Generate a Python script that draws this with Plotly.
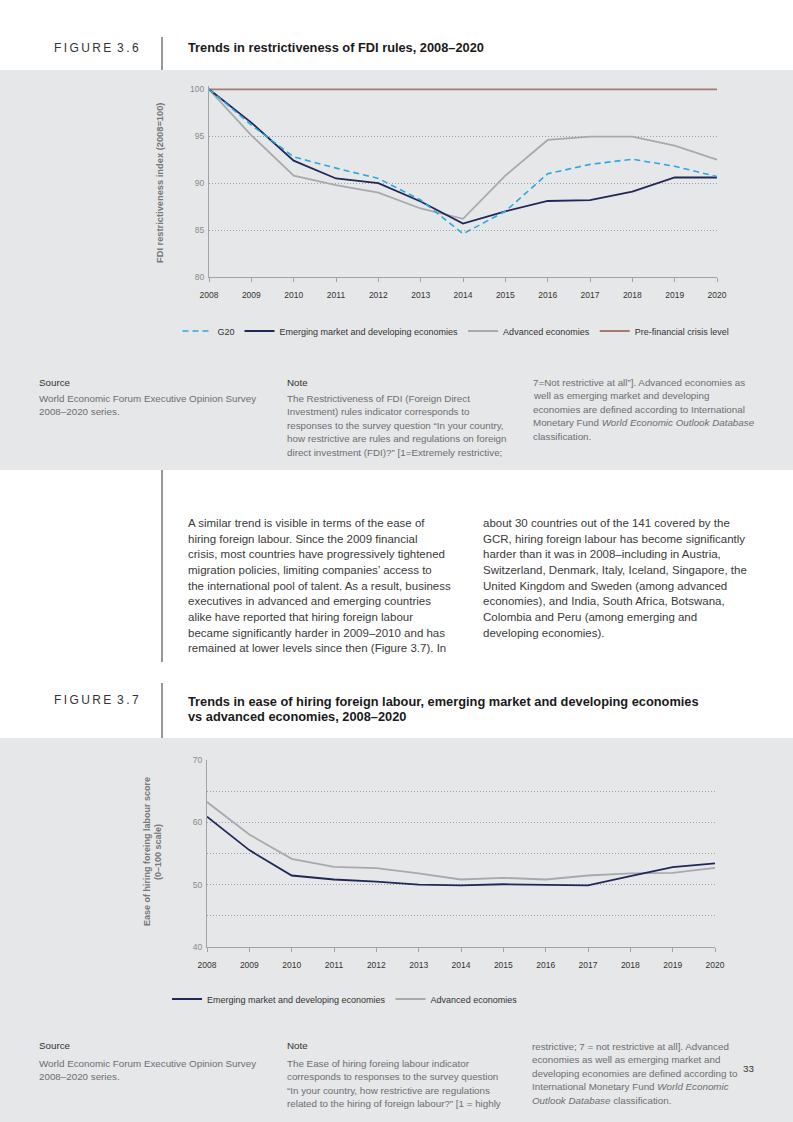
import plotly.graph_objects as go

W, H = 793, 1122

# ---------------- DATA ----------------
years = list(range(2008, 2021))
year_labels = [str(y) for y in years]

fdi_g20 = [100, 96.2, 92.8, 91.6, 90.5, 88.2, 84.6, 87.0, 91.0, 92.0, 92.55, 91.8, 90.7]
fdi_emerging = [100, 96.45, 92.4, 90.5, 90.0, 88.05, 85.7, 87.0, 88.1, 88.2, 89.1, 90.6, 90.6]
fdi_advanced = [100, 95.1, 90.8, 89.8, 89.0, 87.3, 86.2, 90.8, 94.6, 94.95, 94.95, 94.0, 92.5]
fdi_precrisis = [100] * 13
fdi_yticks = [80, 85, 90, 95, 100]

lab_advanced = [63.25, 58.05, 54.15, 52.86, 52.64, 51.8, 50.83, 51.1, 50.83, 51.47, 51.8, 51.9, 52.7]
lab_emerging = [60.9, 55.54, 51.47, 50.83, 50.5, 50.0, 49.9, 50.07, 49.97, 49.9, 51.36, 52.8, 53.4]
lab_yticks = [40, 45, 50, 55, 60, 65, 70]
lab_yticktext = ["40", "", "50", "", "60", "", "70"]

# ---------------- STYLE ----------------
FONT = "Liberation Sans"
NAVY = "#1f2859"
BLUE = "#2aa9e0"
GREY = "#a8a9ac"
BROWN = "#a57b72"
PANEL = "#e6e7e8"
AXIS = "#a3a3a3"


def px_x(x):
    return x / W


def px_y(y):
    return 1 - y / H


fig = go.Figure()

# Figure 3.6 traces
fig.add_trace(go.Scatter(x=years, y=fdi_precrisis, name="Pre-financial crisis level", mode="lines",
                         line=dict(color=BROWN, width=1.8), xaxis="x", yaxis="y", legend="legend",
                         legendrank=4))
fig.add_trace(go.Scatter(x=years, y=fdi_advanced, name="Advanced economies", mode="lines",
                         line=dict(color=GREY, width=1.8), xaxis="x", yaxis="y", legend="legend",
                         legendrank=3))
fig.add_trace(go.Scatter(x=years, y=fdi_emerging, name="Emerging market and developing economies", mode="lines",
                         line=dict(color=NAVY, width=1.8), xaxis="x", yaxis="y", legend="legend",
                         legendrank=2))
fig.add_trace(go.Scatter(x=years, y=fdi_g20, name="G20", mode="lines",
                         line=dict(color=BLUE, width=1.6, dash="6px,4px"), xaxis="x", yaxis="y",
                         legend="legend", legendrank=1))

# Figure 3.7 traces
fig.add_trace(go.Scatter(x=years, y=lab_advanced, name="Advanced economies", mode="lines",
                         line=dict(color=GREY, width=1.8), xaxis="x2", yaxis="y2", legend="legend2",
                         legendrank=2))
fig.add_trace(go.Scatter(x=years, y=lab_emerging, name="Emerging market and developing economies", mode="lines",
                         line=dict(color=NAVY, width=1.8), xaxis="x2", yaxis="y2", legend="legend2",
                         legendrank=1))

# ---------------- AXES ----------------
xcommon = dict(tickvals=years, ticktext=year_labels, showline=True, linecolor=AXIS, linewidth=1,
               ticks="outside", ticklen=4, tickcolor=AXIS, showgrid=False, zeroline=False,
               ticklabelstandoff=6,
               tickfont=dict(family=FONT, size=8.5, color="#333333"), fixedrange=True, automargin=False)
ycommon = dict(showline=True, linecolor=AXIS, linewidth=1, ticks="", showgrid=True,
               gridcolor="#a0a0a0", griddash="1px,2px", gridwidth=1, zeroline=False,
               ticklabelstandoff=2,
               tickfont=dict(family=FONT, size=8.5, color="#8a8a8a"), fixedrange=True, automargin=False)

y1_top_val = 100.3
ppu1 = (277 - 89.3) / 20
fig.update_layout(
    xaxis=dict(domain=[px_x(209), px_x(717)], range=[2008, 2020], anchor="y", **xcommon),
    yaxis=dict(domain=[px_y(277), px_y(89.3 - (y1_top_val - 100) * ppu1)], range=[80, y1_top_val],
               tickvals=fdi_yticks, anchor="x", **ycommon),
    xaxis2=dict(domain=[px_x(207), px_x(715)], range=[2008, 2020], anchor="y2", **xcommon),
    yaxis2=dict(domain=[px_y(947), px_y(760)], range=[40, 70], tickvals=lab_yticks,
                ticktext=lab_yticktext, anchor="x2", **ycommon),
)

# ---------------- LEGENDS ----------------
legfont = dict(family=FONT, size=9, color="#333333")
fig.update_layout(
    legend=dict(orientation="h", xanchor="center", x=px_x(456), yanchor="middle", y=px_y(331),
                font=legfont, bgcolor="rgba(0,0,0,0)", itemwidth=30, traceorder="normal"),
    legend2=dict(orientation="h", xanchor="center", x=px_x(345), yanchor="middle", y=px_y(999),
                 font=legfont, bgcolor="rgba(0,0,0,0)", itemwidth=30, traceorder="normal"),
)

# ---------------- SHAPES ----------------
shapes = [
    dict(type="rect", xref="paper", yref="paper", x0=0, x1=1, y0=px_y(470), y1=px_y(70),
         fillcolor=PANEL, line=dict(width=0), layer="below"),
    dict(type="rect", xref="paper", yref="paper", x0=0, x1=1, y0=0, y1=px_y(738),
         fillcolor=PANEL, line=dict(width=0), layer="below"),
    dict(type="line", xref="paper", yref="paper", x0=px_x(162), x1=px_x(162), y0=px_y(70), y1=px_y(37),
         line=dict(color="#333333", width=1)),
    dict(type="line", xref="paper", yref="paper", x0=px_x(162), x1=px_x(162), y0=px_y(662), y1=px_y(470),
         line=dict(color="#333333", width=1)),
    dict(type="line", xref="paper", yref="paper", x0=px_x(162), x1=px_x(162), y0=px_y(738), y1=px_y(683),
         line=dict(color="#333333", width=1)),
]
fig.update_layout(shapes=shapes)

# ---------------- TEXT ----------------
ann = []


def text(x, y, s, size=8, color="#6d6e71", bold=False, xanchor="left", angle=0):
    if bold:
        s = "<b>" + s + "</b>"
    ann.append(dict(x=px_x(x), y=px_y(y), xref="paper", yref="paper", text=s, showarrow=False,
                    xanchor=xanchor, yanchor="middle", textangle=angle,
                    font=dict(family=FONT, size=size, color=color)))


def block(x, y0, lines, step, **kw):
    for i, ln in enumerate(lines):
        text(x, y0 + i * step, ln, **kw)


NOTE = 9.8
BODY = 11.5
TITLE = 12.8
TS = "\u2009"
text(52, 48, TS.join("FIGURE") + TS + " " + TS.join("3.6"), size=12, color="#333333")
text(186, 48, "Trends in restrictiveness of FDI rules, 2008–2020", size=TITLE, color="#1a1a1a", bold=True)

text(160, 183, "FDI restrictiveness index (2008=100)", size=9.3, color="#77787b", bold=True, xanchor="center",
     angle=-90)

# notes for 3.6
text(37, 382, "Source", size=NOTE, color="#333333")
block(37, 398, ["World Economic Forum Executive Opinion Survey", "2008–2020 series."], 13.6, size=NOTE)
text(285, 382, "Note", size=NOTE, color="#333333")
block(285, 398, ["The Restrictiveness of FDI (Foreign Direct",
                 "Investment) rules indicator corresponds to",
                 "responses to the survey question “In your country,",
                 "how restrictive are rules and regulations on foreign",
                 "direct investment (FDI)?” [1=Extremely restrictive;"], 13.6, size=NOTE)
block(531, 382, ["7=Not restrictive at all”]. Advanced economies as",
                 "well as emerging market and developing",
                 "economies are defined according to International",
                 "Monetary Fund <i>World Economic Outlook Database</i>",
                 "classification."], 13.6, size=NOTE)

# body text
block(186, 523, ["A similar trend is visible in terms of the ease of",
                 "hiring foreign labour. Since the 2009 financial",
                 "crisis, most countries have progressively tightened",
                 "migration policies, limiting companies’ access to",
                 "the international pool of talent. As a result, business",
                 "executives in advanced and emerging countries",
                 "alike have reported that hiring foreign labour",
                 "became significantly harder in 2009–2010 and has",
                 "remained at lower levels since then (Figure 3.7). In"], 15.65, size=BODY, color="#3a3a3a")
block(481, 523, ["about 30 countries out of the 141 covered by the",
                 "GCR, hiring foreign labour has become significantly",
                 "harder than it was in 2008–including in Austria,",
                 "Switzerland, Denmark, Italy, Iceland, Singapore, the",
                 "United Kingdom and Sweden (among advanced",
                 "economies), and India, South Africa, Botswana,",
                 "Colombia and Peru (among emerging and",
                 "developing economies)."], 15.65, size=BODY, color="#3a3a3a")

# figure 3.7 header
text(52, 700, TS.join("FIGURE") + TS + " " + TS.join("3.7"), size=12, color="#333333")
block(186, 701, ["Trends in ease of hiring foreign labour, emerging market and developing economies",
                 "vs advanced economies, 2008–2020"], 15.5, size=TITLE, color="#1a1a1a", bold=True)

text(147, 852, "Ease of hiring foreing labour score", size=9, color="#77787b", bold=True,
     xanchor="center", angle=-90)
text(158, 852, "(0–100 scale)", size=9, color="#77787b", bold=True, xanchor="center", angle=-90)

# notes for 3.7
text(37, 1045, "Source", size=NOTE, color="#333333")
block(37, 1063, ["World Economic Forum Executive Opinion Survey", "2008–2020 series."], 13.6, size=NOTE)
text(285, 1045, "Note", size=NOTE, color="#333333")
block(285, 1063, ["The Ease of hiring foreing labour indicator",
                  "corresponds to responses to the survey question",
                  "“In your country, how restrictive are regulations",
                  "related to the hiring of foreign labour?” [1 = highly"], 13.6, size=NOTE)
block(530, 1046, ["restrictive; 7 = not restrictive at all]. Advanced",
                  "economies as well as emerging market and",
                  "developing economies are defined according to",
                  "International Monetary Fund <i>World Economic</i>",
                  "<i>Outlook Database</i> classification."], 13.6, size=NOTE)
text(748, 1068, "33", size=NOTE, color="#333333", xanchor="center")

fig.update_layout(annotations=ann)

fig.update_layout(width=W, height=H, margin=dict(l=0, r=0, t=0, b=0, pad=0, autoexpand=False),
                  paper_bgcolor="white", plot_bgcolor="rgba(0,0,0,0)",
                  font=dict(family=FONT), showlegend=True)

fig.write_html("out.html", config={"displayModeBar": False},
               post_script="document.body.style.margin='0';document.body.style.overflow='hidden';")
